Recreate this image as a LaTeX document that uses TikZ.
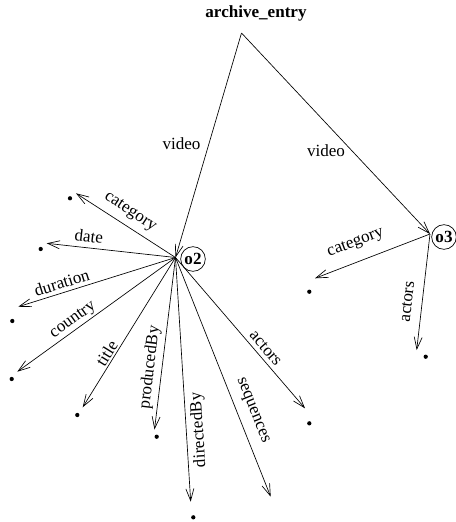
\documentclass[tikz,border=0pt]{standalone}
\usepackage{fontspec}
\setmainfont{Liberation Serif}
\usetikzlibrary{arrows.meta}
\begin{document}
\begin{tikzpicture}[x=0.75pt,y=-0.75pt,
  every node/.style={font=\fontsize{12.8}{15}\selectfont, inner sep=0pt},
  arr/.style={line width=0.5pt, -{Straight Barb[length=9pt,width=6pt,line width=0.5pt]}},
  lbl/.style={anchor=center},
  dotn/.style={circle, fill=black, minimum size=3.2pt, inner sep=0pt},
  obj/.style={circle, draw, line width=0.5pt, minimum size=18.5pt, font=\fontsize{12.8}{15}\selectfont\bfseries}]
\useasboundingbox (0,0) rectangle (455,522);
% root
\node (root) at (256,13) {\textbf{archive\_entry}};
\coordinate (apex) at (241.5,33);
% objects
\coordinate (h2) at (175.5,257.5);
\coordinate (h3) at (430,234);
\node[obj] (o2) at (193,259) {o2};
\node[obj] (o3) at (444,237) {o3};
% video edges
\draw[arr] (apex) -- (h2);
\draw[arr] (apex) -- (h3);
\node[lbl] (v1) at (181.5,144) {video};
\node[lbl] (v2) at (326,151) {video};
% o2 targets (arrow tips) and dots
\coordinate (t1) at (76,193.3);   \node[dotn] (d1) at (70,198.3) {};
\coordinate (t2) at (46.7,243.3); \node[dotn] (d2) at (40.7,249) {};
\coordinate (t3) at (18.3,306.7); \node[dotn] (d3) at (12.3,321) {};
\coordinate (t4) at (17.3,371.7); \node[dotn] (d4) at (11.7,379) {};
\coordinate (t5) at (82.7,407.3); \node[dotn] (d5) at (77.3,415) {};
\coordinate (t6) at (154.5,429.5); \node[dotn] (d6) at (156.7,436.7) {};
\coordinate (t7) at (190.7,501.7); \node[dotn] (d7) at (193.3,517.3) {};
\coordinate (t8) at (270.7,496.7);
\coordinate (t9) at (305,408.3);  \node[dotn] (d9) at (309.3,423.3) {};
\foreach \t in {t1,t2,t3,t4,t5,t6,t7,t8,t9} \draw[arr] (h2) -- (\t);
\node[lbl, rotate=-33.3] (l1) at (130,212.3) {category};
\node[lbl, rotate=-6.7]  (l2) at (89,236) {date};
\node[lbl, rotate=17.3]  (l3) at (61.7,282.7) {duration};
\node[lbl, rotate=35.8]  (l4) at (73.3,320.7) {country};
\node[lbl, rotate=58.3]  (l5) at (106.7,353.3) {title};
\node[lbl, rotate=83.2]  (l6) at (150,367.3) {producedBy};
\node[lbl, rotate=93.7]  (l7) at (199,430) {directedBy};
\node[lbl, rotate=-68.2] (l8) at (252.3,410.7) {sequences};
\node[lbl, rotate=-49.1] (l9) at (265.7,348.3) {actors};
% o3 targets
\coordinate (s1) at (315,278.3); \node[dotn] (e1) at (309.3,291.7) {};
\coordinate (s2) at (416.7,350);  \node[dotn] (e2) at (425.7,356.7) {};
\draw[arr] (h3) -- (s1);
\draw[arr] (h3) -- (s2);
\node[lbl, rotate=20.5] (m1) at (355.7,243.3) {category};
\node[lbl, rotate=83.4] (m2) at (407.3,301.7) {actors};
\end{tikzpicture}
\end{document}
